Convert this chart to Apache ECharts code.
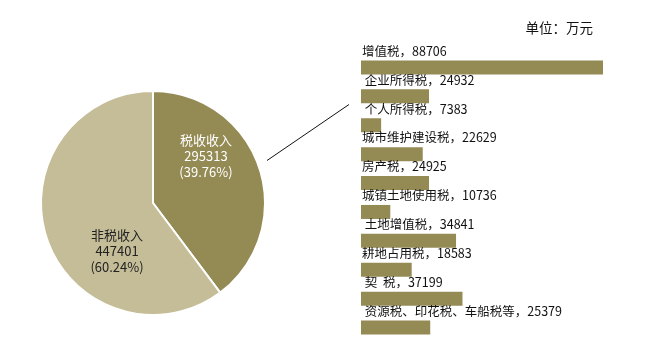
<!DOCTYPE html>
<html><head><meta charset="utf-8">
<script src="https://cdn.jsdelivr.net/npm/echarts@6/dist/echarts.min.js"></script>
<style>html,body{margin:0;padding:0;background:#fff}#c{width:649px;height:350px}</style>
</head><body><div id="c"></div>
<script>
var pieNames = ['税收收入', '非税收入'];
var pieValues = [295313, 447401];
var pieLabels = ['(39.76%)', '(60.24%)'];
var taxNames = ['增值税', ' 企业所得税', ' 个人所得税', '城市维护建设税', '房产税', '城镇土地使用税', ' 土地增值税', '耕地占用税', ' 契  税', ' 资源税、印花税、车船税等'];
var taxValues = [88706, 24932, 7383, 22629, 24925, 10736, 34841, 18583, 37199, 25379];
var unitText = '单位：万元';

var FONT = '"Noto Sans CJK SC", "Microsoft YaHei", sans-serif';
var chart = echarts.init(document.getElementById('c'));
chart.setOption({
  animation: false,
  textStyle: {fontFamily: FONT},
  title: {text: unitText, right: 51, top: 16, textStyle: {fontSize: 13.5, fontWeight: 'normal', color: '#111', fontFamily: FONT}},
  grid: {left: 361, top: 53, width: 242, height: 289},
  xAxis: {type: 'value', min: 0, max: 88706, show: false},
  yAxis: {type: 'category', data: taxNames, inverse: true, show: false},
  graphic: [{type: 'line', shape: {x1: 267, y1: 160.5, x2: 349, y2: 104.5}, style: {stroke: '#111', lineWidth: 1}}],
  series: [
    {
      type: 'pie', center: [153, 203], radius: 112, startAngle: 90, clockwise: true,
      color: ['#948A54', '#C4BD97'],
      itemStyle: {borderColor: '#fff', borderWidth: 2},
      label: {
        position: 'inner', fontSize: 13, lineHeight: 16, fontFamily: FONT,
        formatter: function(p){ return p.name + '\n' + p.value + '\n' + pieLabels[p.dataIndex]; }
      },
      data: [
        {name: pieNames[0], value: pieValues[0], label: {color: '#fff'}},
        {name: pieNames[1], value: pieValues[1], label: {color: '#222'}}
      ],
      labelLayout: function(p){
        return p.dataIndex === 0 ? {dx: -3, dy: -28} : {dx: 20, dy: 29};
      },
      emphasis: {disabled: true}
    },
    {
      type: 'bar', data: taxValues, barWidth: 14,
      itemStyle: {color: '#948A54'},
      label: {
        show: true, position: [1, -9.5], verticalAlign: 'middle', align: 'left',
        fontSize: 12.5, color: '#111', fontFamily: FONT,
        formatter: function(p){ return taxNames[p.dataIndex] + '，' + p.value; }
      },
      emphasis: {disabled: true}
    }
  ]
});
</script></body></html>
